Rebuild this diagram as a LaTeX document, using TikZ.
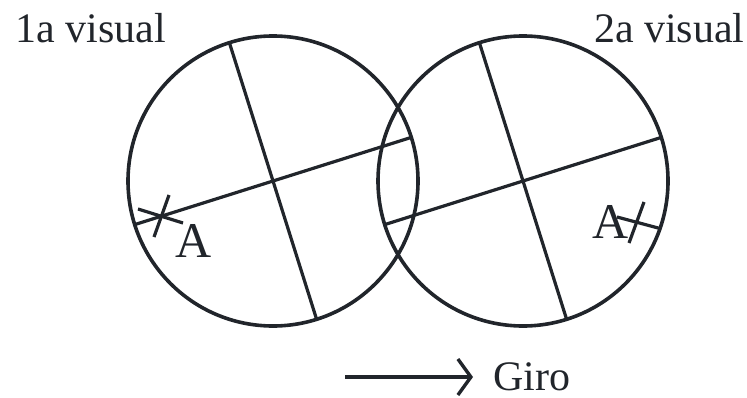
\documentclass[tikz,border=0pt]{standalone}
\usepackage{fontspec}
\setmainfont{Liberation Serif}
\usepackage{xcolor}
\usetikzlibrary{arrows.meta,calc}
\definecolor{tracoescuro}{RGB}{33,37,43}
\tikzset{
  circulo/.style={draw=tracoescuro,line width=1.8pt},
  linha/.style={draw=tracoescuro,line width=1.6pt},
  rotulo/.style={inner sep=0pt,text=tracoescuro,font=\fontsize{21}{25}\selectfont},
  letra/.style={inner sep=0pt,text=tracoescuro,font=\fontsize{25}{30}\selectfont},
  seta/.style={-{Straight Barb[length=6.5pt,width=18pt]},line width=1.7pt,tracoescuro}
}
\begin{document}
\begin{tikzpicture}[x=0.5pt,y=0.5pt]
  \useasboundingbox (0,0) rectangle (747,397);
  \def\raio{145}
  \coordinate (c1) at (273,216);
  \coordinate (c2) at (523,216);
  % as duas visuais
  \foreach \c in {c1,c2}{
    \draw[circulo] (\c) circle (\raio);
    \draw[linha] ($(\c)+(17.5:\raio)$) -- ($(\c)+(197.5:\raio)$);
    \draw[linha] ($(\c)+(107.5:\raio)$) -- ($(\c)+(287.5:\raio)$);
  }
  % marcas do ponto A
  \draw[linha] (138,188) -- (183,174);
  \draw[linha] (169,202) -- (154,160);
  \draw[linha] (617,180) -- (660,168.5);
  \draw[linha] (644,195) -- (629,154);
  \node[letra,anchor=base west] (a1) at (175,140) {A};
  \node[letra,anchor=base west] (a2) at (592,159) {A};
  \node[rotulo,anchor=base west] (vis1) at (15,354) {1a visual};
  \node[rotulo,anchor=base east] (vis2) at (745,354) {2a visual};
  \node[rotulo,anchor=base west] (giro) at (493,7) {Giro};
  \coordinate (inicio) at (345,20);
  \draw[seta,shorten >=10pt] (inicio) -- (inicio -| giro.west);
\end{tikzpicture}
\end{document}
